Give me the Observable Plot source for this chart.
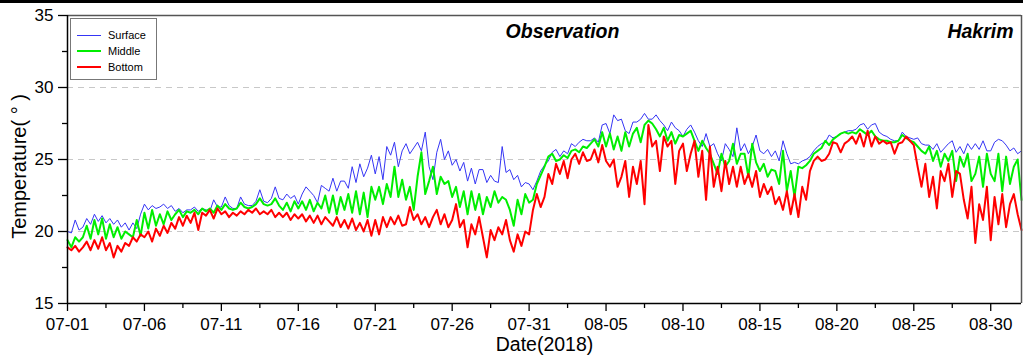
<!DOCTYPE html>
<html>
<head>
<meta charset="utf-8">
<script src="https://cdn.jsdelivr.net/npm/d3@7"></script>
<script src="https://cdn.jsdelivr.net/npm/@observablehq/plot@0.6"></script>
<style>
  body { margin: 0; background: #fff; }
  #chart { position: relative; width: 1023px; height: 359px; font-family: "Liberation Sans", Arial, sans-serif; }
  #chart svg { position: absolute; left: 0; top: 0; }
  #topbar { position: absolute; left: 0; top: 0; width: 1023px; height: 3px; background: #000; }
  #legend { position: absolute; left: 70px; top: 18px; width: 87px; height: 62px; box-sizing: border-box;
            border: 1px solid #777; background: #fff; font-size: 11px; color: #000; }
  #legend .row { position: absolute; left: 0; height: 14px; width: 86px; }
  #legend .swatch { position: absolute; left: 6px; width: 24px; }
  #legend .name { position: absolute; left: 37px; top: 0; line-height: 14px; }
</style>
</head>
<body>
<div id="chart">
  <div id="topbar"></div>
  <div id="legend"></div>
</div>
<script>
// Hakrim station, 6-hourly water temperature (°C), 2018-07-01 00:00 onwards
const startDate = "2018-07-01T00:00Z";
const endDate = "2018-09-01T00:00Z";
const stepHours = 6;

const surface = [
  20.0, 19.9, 20.8, 20.1,  20.3, 20.9, 20.5, 21.2,  20.7, 21.1, 20.6, 20.9,  20.5, 20.8, 20.3, 20.6,
  20.1, 20.6, 20.2, 21.2,  21.9, 21.5, 21.8, 21.6,  21.7, 21.9, 21.6, 21.8,  21.4, 21.6, 21.3, 21.5,
  21.5, 21.7, 21.4, 21.6,  21.5, 21.4, 22.2, 21.7,  21.7, 22.4, 21.8, 21.6,  21.6, 22.4, 21.9, 21.8,
  21.8, 22.1, 22.9, 22.1,  22.0, 22.3, 23.1, 22.3,  22.2, 22.6, 22.3, 22.5,  21.9, 22.6, 23.1, 22.8,
  22.5, 22.0, 23.2, 23.0,  22.8, 23.7, 22.8, 23.5,  23.5, 23.0, 24.5, 23.4,  24.7, 23.8, 24.4, 25.3,
  24.0, 25.2, 23.6, 25.9,  25.3, 26.2, 24.5, 25.6,  26.1, 25.4, 25.8, 26.2,  25.6, 26.9, 24.5, 23.6,
  25.5, 26.4, 25.0, 25.6,  24.6, 25.0, 24.2, 24.8,  23.5, 24.4, 23.3, 24.3,  24.3, 23.4, 23.9, 23.5,
  23.4, 25.9, 24.1, 24.3,  23.6, 23.9, 23.1, 23.4,  23.3, 22.9, 23.5, 24.2,  24.6, 24.9, 25.5, 25.7,
  25.2, 25.6, 25.4, 26.1,  25.9, 26.2, 26.4, 26.3,  26.3, 26.5, 26.2, 27.4,  27.5, 26.8, 28.1, 27.7,
  27.8, 27.0, 26.8, 27.6,  27.6, 27.8, 28.2, 27.8,  27.8, 28.1, 27.7, 27.4,  27.0, 27.6, 27.2, 27.0,
  26.6, 27.1, 27.4, 26.9,  26.3, 25.9, 26.8, 25.9,  26.1, 25.4, 24.9, 26.1,  25.7, 25.2, 27.2, 25.6,
  26.1, 25.4, 25.9, 26.7,  25.6, 25.4, 25.7, 25.2,  25.6, 24.9, 26.3, 25.4,  24.7, 24.8, 24.7, 24.9,
  25.0, 25.2, 25.6, 25.9,  26.1, 26.2, 26.7, 26.5,  26.6, 26.8, 26.9, 27.0,  27.0, 27.1, 27.4, 27.5,
  27.1, 27.4, 27.5, 26.9,  26.7, 26.6, 26.4, 26.3,  26.3, 26.9, 26.6, 26.5,  26.4, 26.5, 26.1, 26.0,
  26.0, 25.7, 26.1, 25.5,  25.8, 26.1, 26.3, 25.5,  25.9, 25.4, 26.1, 25.7,  26.1, 25.7, 26.3, 25.6,
  25.6, 26.2, 26.4, 26.3,  26.0, 25.6, 25.8, 25.4,  25.6
];

const middle = [
  19.4, 18.9, 19.6, 19.3,  19.6, 20.4, 19.5, 20.8,  19.8, 20.9, 19.5, 20.5,  19.6, 20.3, 19.5, 20.0,
  19.8, 19.6, 20.8, 19.7,  21.3, 20.2, 21.5, 20.4,  21.2, 20.5, 21.4, 20.8,  21.2, 21.5, 21.0, 21.4,
  21.3, 21.5, 21.2, 21.6,  21.4, 21.6, 21.3, 21.8,  21.5, 21.9, 21.6, 21.5,  21.6, 22.0, 21.7, 21.6,
  21.7, 21.9, 22.3, 21.9,  21.8, 21.9, 22.3, 21.8,  21.5, 22.0, 21.4, 22.1,  21.6, 22.1, 21.5, 22.2,
  21.4, 22.0, 21.6, 22.5,  21.3, 22.5, 21.2, 22.4,  21.5, 22.6, 21.3, 22.8,  21.2, 22.7, 21.0, 23.1,
  22.2, 23.1, 21.9, 23.3,  22.4, 24.5, 22.4, 23.6,  22.2, 23.1, 21.5, 23.8,  25.5, 22.6, 23.5, 24.5,
  22.6, 23.8, 23.3, 23.5,  22.4, 23.1, 21.7, 22.8,  21.2, 22.8, 21.5, 22.6,  21.2, 22.4, 21.7, 22.8,
  22.0, 22.4, 22.2, 21.5,  20.4, 22.2, 21.2, 22.6,  22.0, 22.2, 23.3, 23.9,  24.5, 25.2, 25.4, 24.9,
  25.0, 25.3, 25.1, 25.6,  25.7, 25.5, 25.9, 25.8,  26.1, 26.4, 25.9, 26.9,  25.9, 26.8, 25.7, 26.6,
  25.6, 26.9, 25.9, 26.8,  27.2, 26.2, 27.4, 27.7,  27.5, 27.1, 26.6, 27.2,  26.3, 26.9, 26.1, 26.7,
  26.6, 26.8, 27.0, 26.3,  25.6, 26.3, 25.8, 25.4,  24.7, 24.0, 25.4, 24.5,  24.9, 26.1, 24.7, 25.4,
  25.4, 23.8, 26.1, 24.8,  24.2, 24.7, 23.8, 24.3,  24.2, 23.3, 25.6, 22.8,  24.2, 22.4, 24.5, 24.4,
  24.6, 24.9, 25.4, 25.6,  25.8, 26.3, 26.0, 26.4,  26.6, 26.8, 26.9, 26.8,  26.9, 26.8, 27.1, 26.9,
  26.7, 27.0, 26.6, 26.4,  26.3, 26.3, 26.2, 26.2,  26.3, 26.7, 26.5, 26.3,  26.2, 25.9, 25.6, 25.4,
  25.9, 24.9, 25.6, 24.5,  25.4, 24.9, 25.6, 23.5,  25.2, 24.5, 25.4, 23.5,  24.0, 25.2, 23.1, 25.4,
  24.0, 23.5, 25.4, 22.8,  25.2, 23.3, 24.5, 25.0,  22.2
];

const bottom = [
  18.9, 18.7, 19.0, 18.6,  18.9, 19.3, 18.7, 19.4,  18.8, 19.6, 18.7, 19.2,  18.2, 19.0, 18.6, 19.2,
  19.0, 19.6, 19.3, 19.8,  19.6, 20.0, 19.3, 20.2,  19.7, 20.4, 19.9, 20.6,  20.2, 21.0, 20.4, 21.1,
  20.6, 21.3, 20.1, 21.3,  21.1, 21.5, 20.9, 21.6,  21.2, 21.4, 21.0, 21.3,  21.1, 21.4, 21.2, 21.5,
  21.3, 21.6, 21.2, 21.4,  21.2, 21.5, 21.0, 21.3,  21.0, 21.3, 20.8, 21.2,  20.9, 21.2, 20.7, 21.1,
  20.6, 21.1, 20.5, 21.0,  20.7, 20.4, 21.0, 20.3,  20.8, 20.2, 20.9, 20.1,  20.6, 20.0, 20.8, 19.7,
  20.8, 19.8, 21.0, 20.3,  21.0, 20.5, 21.1, 20.4,  20.5, 21.7, 20.8, 21.2,  20.5, 21.0, 20.3, 21.0,
  21.5, 20.5, 21.2, 20.3,  20.8, 21.9, 20.3, 20.8,  18.9, 20.5, 19.8, 21.0,  19.6, 18.2, 20.1, 19.4,
  20.3, 19.8, 20.8, 19.4,  18.6, 19.8, 19.0, 20.0,  19.8, 21.5, 22.6, 21.7,  22.4, 24.0, 23.3, 24.7,
  24.0, 24.9, 23.7, 25.0,  25.4, 24.7, 25.5, 24.9,  25.0, 25.7, 24.8, 26.0,  24.9, 24.5, 25.0, 23.1,
  23.8, 24.9, 22.4, 24.5,  23.3, 24.9, 21.9, 27.4,  25.9, 26.3, 24.2, 26.6,  25.9, 26.3, 23.3, 25.6,
  26.1, 24.2, 25.4, 26.3,  23.8, 25.6, 22.2, 25.9,  23.1, 24.5, 22.8, 24.9,  23.3, 24.5, 23.1, 24.5,
  23.3, 24.0, 23.1, 24.2,  22.4, 23.3, 22.6, 23.1,  21.9, 22.4, 21.5, 22.8,  21.2, 22.6, 21.0, 23.1,
  22.2, 24.2, 24.9, 25.2,  24.9, 25.0, 25.4, 26.2,  26.1, 25.5, 26.1, 26.3,  26.6, 26.1, 26.8, 25.9,
  27.0, 25.9, 26.6, 26.1,  26.3, 26.1, 26.2, 25.4,  26.1, 26.2, 26.6, 26.3,  26.0, 24.5, 23.1, 24.7,
  22.4, 23.8, 21.6, 24.2,  23.5, 24.7, 22.4, 24.2,  24.0, 22.2, 20.9, 23.1,  19.2, 21.9, 20.8, 23.1,
  19.4, 22.4, 20.5, 22.6,  20.3, 21.9, 22.6, 21.2,  20.1
];

const seriesNames = ["Surface", "Middle", "Bottom"];
const seriesColors = ["#3535f5", "#00ee00", "#ff0000"];
const seriesWidths = [1, 2, 2];
const seriesValues = [surface, middle, bottom];

const xTickLabels = ["07-01", "07-06", "07-11", "07-16", "07-21", "07-26", "07-31",
                     "08-05", "08-10", "08-15", "08-20", "08-25", "08-30"];
const yTicks = [15, 20, 25, 30, 35];
const yMinorTicks = [17.5, 22.5, 27.5, 32.5];
const yGrid = [20, 25, 30];

const t0 = new Date(startDate);
const t1 = new Date(endDate);
const toRows = (values) => values.map((v, i) => ({date: d3.utcHour.offset(t0, i * stepHours), value: v}));

const xTicks = xTickLabels.map((s) => new Date(`2018-${s}T00:00Z`));
const xMinorTicks = xTicks.slice(0, -1).map((d, i) => new Date((+d + +xTicks[i + 1]) / 2));

const font = `"Liberation Sans", Arial, sans-serif`;

const plot = Plot.plot({
  width: 1023,
  height: 359,
  marginTop: 15,
  marginRight: 2,
  marginBottom: 56,
  marginLeft: 67,
  style: {fontFamily: font, fontSize: "17px", background: "transparent", color: "#000"},
  x: {type: "utc", domain: [t0, t1]},
  y: {domain: [15, 35]},
  marks: [
    Plot.gridY(yGrid, {stroke: "#c8c8c8", strokeOpacity: 1, strokeDasharray: "6,5", strokeWidth: 1}),
    ...seriesValues.map((vals, k) =>
      Plot.line(toRows(vals), {x: "date", y: "value", stroke: seriesColors[k], strokeWidth: seriesWidths[k]})
    ),
    // frame: dark grey top/right, black axis lines left/bottom
    Plot.ruleY([35], {stroke: "#555", strokeWidth: 1.5}),
    Plot.ruleX([t1], {stroke: "#555", strokeWidth: 1.5}),
    Plot.ruleX([t0], {stroke: "#000", strokeWidth: 1.5}),
    Plot.ruleY([15], {stroke: "#000", strokeWidth: 1.5}),
    Plot.axisY(yTicks, {tickSize: 9, tickPadding: 5, fontSize: 17, label: null, strokeWidth: 1.3}),
    Plot.axisY(yMinorTicks, {tickSize: 5, tickFormat: () => "", label: null, strokeWidth: 1.3}),
    Plot.axisX(xTicks, {tickSize: 8, tickPadding: 6, fontSize: 17, label: null, strokeWidth: 1.3,
                        tickFormat: d3.utcFormat("%m-%d")}),
    Plot.axisX(xMinorTicks, {tickSize: 5, tickFormat: () => "", label: null, strokeWidth: 1.3}),
    Plot.text(["Temperature( ° )"], {frameAnchor: "left", textAnchor: "middle", rotate: -90,
                                     dx: -48, dy: 7, fontSize: 20}),
    Plot.text(["Date(2018)"], {frameAnchor: "bottom", textAnchor: "middle", dy: 47, fontSize: 19.5}),
    Plot.text(["Observation"], {frameAnchor: "top", dx: 18, dy: 9, fontSize: 19.5,
                                fontWeight: "bold", fontStyle: "italic"}),
    Plot.text(["Hakrim"], {frameAnchor: "top-right", textAnchor: "end", dx: -8, dy: 9, fontSize: 19.5,
                           fontWeight: "bold", fontStyle: "italic"})
  ]
});

const chart = document.getElementById("chart");
chart.insertBefore(plot, document.getElementById("legend"));

// legend entries
const legend = document.getElementById("legend");
seriesNames.forEach((name, k) => {
  const row = document.createElement("div");
  row.className = "row";
  row.style.top = `${9 + k * 16}px`;
  const sw = document.createElement("div");
  sw.className = "swatch";
  sw.style.top = `${7 - seriesWidths[k] / 2}px`;
  sw.style.height = `${seriesWidths[k]}px`;
  sw.style.background = seriesColors[k];
  const label = document.createElement("div");
  label.className = "name";
  label.textContent = name;
  row.appendChild(sw);
  row.appendChild(label);
  legend.appendChild(row);
});
</script>
</body>
</html>
